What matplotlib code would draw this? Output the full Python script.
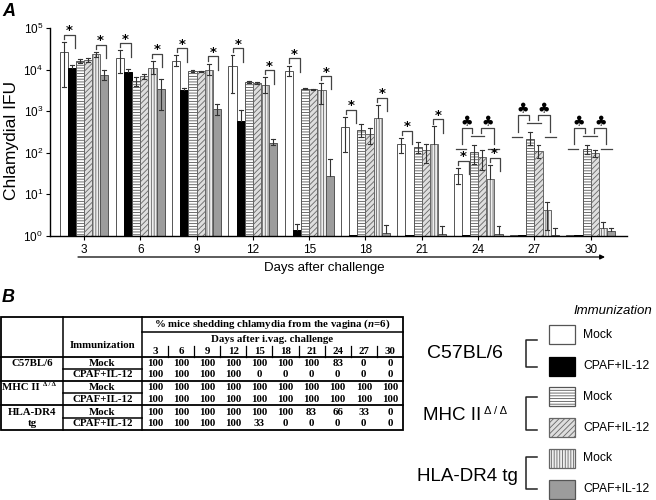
import numpy as np
import matplotlib
matplotlib.use('Agg')
import matplotlib.pyplot as plt
from matplotlib.patches import Rectangle
from matplotlib.ticker import NullLocator

plt.rcParams['font.family'] = ['Liberation Sans', 'DejaVu Sans']
plt.rcParams['mathtext.fontset'] = 'custom'
plt.rcParams['mathtext.rm'] = 'Liberation Sans'
plt.rcParams['mathtext.it'] = 'Liberation Serif:italic:bold'
plt.rcParams['hatch.linewidth'] = 0.6

nan = np.nan
days = [3, 6, 9, 12, 15, 18, 21, 24, 27, 30]

# ---- Panel A: chlamydial IFU (means and error-bar bounds) ----
c57_mock = [26000, 19000, 16000, 12000, 9400, 420, 160, 31, 1.05, 1.05]
c57_mock_hi = [47000, 29000, 22000, 22000, 12500, 740, 225, 44, nan, nan]
c57_mock_lo = [3800, 8300, 12000, 2700, 6900, 107, 98, 18, nan, nan]

c57_cpaf = [10700, 8600, 3200, 590, 1.4, 1.05, 1.05, 1.05, 1.05, 1.05]
c57_cpaf_hi = [12900, 10300, 3700, 1050, 1.9, nan, nan, nan, nan, nan]
c57_cpaf_lo = [nan] * 10

mhc_mock = [16000, 5200, 9300, 5000, 3500, 350, 137, 107, 220, 123]
mhc_mock_hi = [17500, 6500, 9700, 5200, 3600, 490, 177, 152, 310, 152]
mhc_mock_lo = [14500, 4100, 8900, 4800, 3400, 245, 100, 55, 152, 96]

mhc_cpaf = [17000, 6900, 9100, 4700, 3400, 280, 117, 81, 110, 98]
mhc_cpaf_hi = [18500, 7800, 9400, 4900, 3500, 400, 167, 120, 152, 115]
mhc_cpaf_lo = [15500, 6000, 8800, 4500, 3300, 167, 57, 39, 73, 80]

hla_mock = [23700, 11000, 10000, 4300, 3200, 690, 160, 24, 4.2, 1.6]
hla_mock_hi = [27000, 16000, 14000, 6500, 4700, 1400, 430, 52, 6.6, 2.2]
hla_mock_lo = [20500, 7900, 7600, 2800, 1480, nan, nan, nan, 1.4, nan]

hla_cpaf = [7500, 3500, 1100, 170, 28, 1.2, 1.1, 1.1, 1.05, 1.3]
hla_cpaf_hi = [9800, 5900, 1450, 220, 70, 1.8, 1.7, 1.7, 1.6, 1.6]
hla_cpaf_lo = [5600, 1050, 830, 150, nan, nan, nan, nan, nan, nan]

# significance: '*' groups (index into days) and club groups
star_groups = [0, 1, 2, 3, 4, 5, 6, 7]
club_groups = [7, 8, 9]

# ---- Panel B: % mice shedding ----
strains = ['C57BL/6', 'MHC II', 'HLA-DR4']
immunizations = ['Mock', 'CPAF+IL-12']
pct_c57_mock = [100, 100, 100, 100, 100, 100, 100, 83, 0, 0]
pct_c57_cpaf = [100, 100, 100, 100, 0, 0, 0, 0, 0, 0]
pct_mhc_mock = [100, 100, 100, 100, 100, 100, 100, 100, 100, 100]
pct_mhc_cpaf = [100, 100, 100, 100, 100, 100, 100, 100, 100, 100]
pct_hla_mock = [100, 100, 100, 100, 100, 100, 83, 66, 33, 0]
pct_hla_cpaf = [100, 100, 100, 100, 33, 0, 0, 0, 0, 0]

W, H = 656, 500
fig = plt.figure(figsize=(W / 100, H / 100), dpi=100)

# overlay axes in pixel coordinates for texts, table, legend
ov = fig.add_axes([0, 0, 1, 1])
ov.set_xlim(0, W)
ov.set_ylim(H, 0)
ov.axis('off')

ax = fig.add_axes([50 / W, 1 - 236 / H, 577 / W, 208 / H])
ax.patch.set_alpha(0)

series = [
    (c57_mock, c57_mock_lo, c57_mock_hi, 'white', '#555555', None),
    (c57_cpaf, c57_cpaf_lo, c57_cpaf_hi, 'black', 'black', None),
    (mhc_mock, mhc_mock_lo, mhc_mock_hi, 'white', '#555555', '------'),
    (mhc_cpaf, mhc_cpaf_lo, mhc_cpaf_hi, '#dedede', '#666666', '//////'),
    (hla_mock, hla_mock_lo, hla_mock_hi, '#eeeeee', '#666666', '||||||'),
    (hla_cpaf, hla_cpaf_lo, hla_cpaf_hi, '#9c9c9c', '#555555', None),
]

x = np.arange(len(days))
w = 0.145
cap = 0.035
ecol = '#333333'
tops = {}
for j, (v, lo, hi, fc, ec, h) in enumerate(series):
    xs = x + (j - 2.5) * w
    v = np.asarray(v, float)
    ax.bar(xs, v - 1, bottom=1, width=w, facecolor=fc, edgecolor=ec,
           linewidth=0.7, hatch=h, zorder=2)
    tops[j] = []
    for xi, vi, l, u in zip(xs, v, lo, hi):
        tops[j].append(vi if np.isnan(u) else u)
        if np.isnan(u):
            continue
        low = vi if np.isnan(l) else l
        ax.plot([xi, xi], [low, u], color=ecol, lw=0.8, zorder=3)
        ax.plot([xi - cap, xi + cap], [u, u], color=ecol, lw=0.8, zorder=3)
        if not np.isnan(l):
            ax.plot([xi - cap, xi + cap], [l, l], color=ecol, lw=0.8, zorder=3)

bc = '#444444'
def star_bracket(x0, x1, top):
    ax.plot([x0, x0, x1, x1], [top * 10 ** -0.1, top, top, top * 10 ** -0.32],
            color=bc, lw=0.9, zorder=3, clip_on=False)
    ax.text((x0 + x1) / 2, top * 10 ** 0.1, '*', ha='center', va='center',
            fontsize=9.5, fontweight='bold', family='DejaVu Sans', zorder=4)

for g in star_groups:
    b0 = g - 2.5 * w
    b1 = g - 1.5 * w
    star_bracket(b0 + 0.01, b1 + 0.05, tops[0][g] * 10 ** 0.17)
    b4 = g + 1.5 * w
    b5 = g + 2.5 * w
    star_bracket(b4 - 0.01, b5 + 0.02, tops[4][g] * 10 ** 0.17)

for g in club_groups:
    t = tops[2][g] * 10 ** 0.42
    f = lambda d: t * 10 ** d
    ax.plot([g - 0.29, g - 0.29, g - 0.10, g - 0.10], [f(-0.40), t, t, f(-0.12)],
            color=bc, lw=0.9, zorder=3)
    ax.plot([g + 0.06, g + 0.06, g + 0.28, g + 0.28], [f(-0.12), t, t, f(-0.40)],
            color=bc, lw=0.9, zorder=3)
    ax.plot([g - 0.13, g + 0.11], [f(-0.20), f(-0.20)], color=bc, lw=0.9, zorder=3)
    ax.plot([g - 0.40, g - 0.22], [f(-0.52), f(-0.52)], color=bc, lw=0.9, zorder=3)
    ax.plot([g + 0.18, g + 0.38], [f(-0.52), f(-0.52)], color=bc, lw=0.9, zorder=3)
    for cx in (g - 0.21, g + 0.17):
        ax.text(cx, f(0.13), '\u2663', ha='center', va='center', fontsize=10,
                family='DejaVu Sans', zorder=4)

ax.set_yscale('log')
ax.set_ylim(1, 1e5)
ax.set_xlim((50 - 84) / 56.3, (627 - 84) / 56.3)
ax.yaxis.set_minor_locator(NullLocator())
ax.set_xticks(x)
ax.set_xticklabels([str(d) for d in days])
ax.tick_params(axis='both', labelsize=8.5, length=3, width=0.8, direction='out')
ax.tick_params(axis='x', pad=3)
ax.tick_params(axis='y', pad=2)
for s in ('top', 'right'):
    ax.spines[s].set_visible(False)
for s in ('left', 'bottom'):
    ax.spines[s].set_linewidth(1.0)

ov.text(12, 140, 'Chlamydial IFU', rotation=90, ha='center', va='center', fontsize=12.5)
ov.annotate('', xy=(605, 257), xytext=(78, 257),
            arrowprops=dict(arrowstyle='-|>', color='black', lw=0.9, mutation_scale=7,
                            shrinkA=0, shrinkB=0))
ov.text(324, 268, 'Days after challenge', ha='center', va='center', fontsize=9.5)
ov.text(2, 11, 'A', ha='left', va='center', fontsize=13, fontweight='bold', fontstyle='italic')
ov.text(2, 298, 'B', ha='left', va='center', fontsize=13, fontweight='bold', fontstyle='italic')

# ---- Table ----
tf = dict(family='Liberation Serif', fontweight='bold', fontsize=7.8, ha='center', va='center')
L, R, T, B = 1, 403, 317, 430
lw_t = 1.1
ov.add_patch(Rectangle((L, T), R - L, B - T, fill=False, lw=1.3, edgecolor='black'))
ov.plot([63, 63], [T, B], color='black', lw=lw_t)
ov.plot([142, 142], [T, B], color='black', lw=lw_t)
ov.plot([142, R], [332, 332], color='black', lw=lw_t)
for yy in (357, 381, 405):
    ov.plot([L, R], [yy, yy], color='black', lw=1.3)
for yy in (369, 393, 418):
    ov.plot([63, 142], [yy, yy], color='black', lw=lw_t)

col_x = [155 + 26.1 * k for k in range(len(days))]
for k in range(len(days) - 1):
    xm = (col_x[k] + col_x[k + 1]) / 2
    ov.plot([xm, xm], [346, 357], color='black', lw=0.9)

ov.text(272, 324.5, '% mice shedding chlamydia from the vagina ($\\it{n}$=6)', **tf)
ov.text(272, 339.5, 'Days after i.vag. challenge', **tf)
for cx, d in zip(col_x, days):
    ov.text(cx, 351.5, str(d), **tf)
ov.text(102.5, 346, 'Immunization', **tf)

row_y = [363.3, 374.5, 387.7, 399, 412.7, 423.8]
rows = [pct_c57_mock, pct_c57_cpaf, pct_mhc_mock, pct_mhc_cpaf, pct_hla_mock, pct_hla_cpaf]
for r, (yy, vals) in enumerate(zip(row_y, rows)):
    ov.text(102.5, yy, immunizations[r % 2], **tf)
    for cx, v in zip(col_x, vals):
        ov.text(cx, yy, str(v), **tf)
ov.text(32, 363.3, strains[0], **tf)
ov.text(21, 388, strains[1], **tf)
ov.text(49, 384.5, '\u0394 / \u0394', family='Liberation Serif', fontweight='bold',
        fontsize=4.8, ha='center', va='center')
ov.text(32, 412.7, strains[2], **tf)
ov.text(32, 423.8, 'tg', **tf)

# ---- Legend ----
ov.text(613, 311, 'Immunization', ha='center', va='center', fontsize=9.5, fontstyle='italic')
box_y = [325, 356.7, 387, 418.3, 448.5, 479.5]
leg_style = [(s[3], s[4], s[5]) for s in series]
for (fc, ec, h), yb, lab in zip(leg_style, box_y, immunizations * 3):
    ov.add_patch(Rectangle((548.5, yb), 26.5, 19, facecolor=fc, edgecolor=ec,
                           lw=0.9, hatch=h))
    ov.text(583, yb + 9.5, lab, ha='left', va='center', fontsize=8.7)

def leg_bracket(y0, y1):
    ov.plot([537, 526, 526, 537], [y0, y0, y1, y1], color='#222222', lw=1.1)

ov.text(465, 353, strains[0], ha='center', va='center', fontsize=14)
leg_bracket(340, 367)
ov.text(423, 415, strains[1], ha='left', va='center', fontsize=13.5)
ov.text(496, 410.5, '\u0394 / \u0394', ha='center', va='center', fontsize=8)
leg_bracket(396.5, 430)
ov.text(467, 476.5, strains[2] + ' tg', ha='center', va='center', fontsize=13.5)
leg_bracket(456.5, 488.5)

fig.savefig('out.png', dpi=100)
